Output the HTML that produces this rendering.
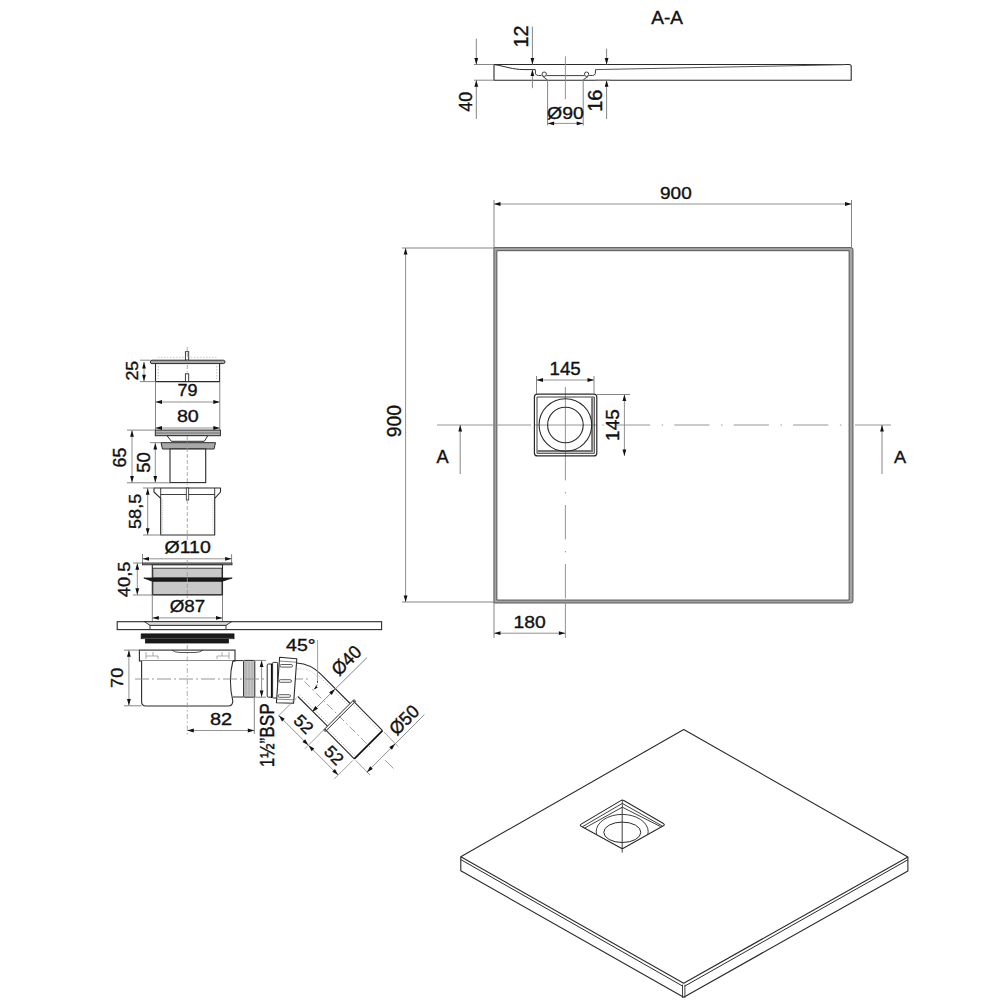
<!DOCTYPE html>
<html><head><meta charset="utf-8"><style>
html,body{margin:0;padding:0;background:#fff;width:1000px;height:1000px;overflow:hidden}
svg{display:block}
text{font-family:"Liberation Sans", sans-serif}
</style></head><body>
<svg width="1000" height="1000" viewBox="0 0 1000 1000">
<rect width="1000" height="1000" fill="#fff"/>
<text transform="translate(667.00,17.40) rotate(0) translate(-15.80,6.20) scale(0.1904,0.1797)" font-size="100" fill="#111" stroke="#111" stroke-width="2.05">A-A</text>
<path d="M494,80.2 L494,64.5 L849,64.5 Q851.2,64.5 851.2,66.5 L851.2,80.2 Z" fill="none" stroke="#2a2a2a" stroke-width="1.1" stroke-linejoin="round"/>
<path d="M494,64.5 C506,66.5 512,69.4 524,69.6 L535.3,69.6" fill="none" stroke="#2a2a2a" stroke-width="1.0" stroke-linejoin="round"/>
<path d="M595.5,69.6 L845,64.7" fill="none" stroke="#555" stroke-width="1.0" stroke-linejoin="round"/>
<path d="M535.3,69.6 L535.5,73.8 Q536,75.5 538.5,75.5 L541.5,75.5" fill="none" stroke="#2a2a2a" stroke-width="0.9" stroke-linejoin="round"/>
<path d="M546.5,75.6 L584.3,75.6" fill="none" stroke="#2a2a2a" stroke-width="0.9" stroke-linejoin="round"/>
<path d="M589.3,75.5 L592.3,75.5 Q594.8,75.5 595.3,73.8 L595.5,69.6" fill="none" stroke="#2a2a2a" stroke-width="0.9" stroke-linejoin="round"/>
<circle cx="544.2" cy="74.2" r="2.2" fill="none" stroke="#2a2a2a" stroke-width="0.9"/>
<circle cx="586.6" cy="74.2" r="2.2" fill="none" stroke="#2a2a2a" stroke-width="0.9"/>
<path d="M542.5,76.2 L547.6,80" fill="none" stroke="#2a2a2a" stroke-width="0.9" stroke-linejoin="round"/>
<path d="M588.3,76.2 L583.2,80" fill="none" stroke="#2a2a2a" stroke-width="0.9" stroke-linejoin="round"/>
<line x1="474.00" y1="64.50" x2="494.00" y2="64.50" stroke="#858585" stroke-width="1.0"/>
<line x1="474.00" y1="80.20" x2="494.00" y2="80.20" stroke="#858585" stroke-width="1.0"/>
<line x1="476.30" y1="38.70" x2="476.30" y2="64.50" stroke="#858585" stroke-width="1.0"/>
<polygon points="476.30,64.50 474.40,58.00 478.20,58.00" fill="#111"/>
<line x1="476.30" y1="80.20" x2="476.30" y2="119.00" stroke="#858585" stroke-width="1.0"/>
<polygon points="476.30,80.20 478.20,86.70 474.40,86.70" fill="#111"/>
<line x1="532.40" y1="26.60" x2="532.40" y2="64.50" stroke="#858585" stroke-width="1.0"/>
<polygon points="532.40,64.50 530.50,58.00 534.30,58.00" fill="#111"/>
<line x1="532.40" y1="69.60" x2="532.40" y2="88.20" stroke="#858585" stroke-width="1.0"/>
<polygon points="532.40,69.60 534.30,76.10 530.50,76.10" fill="#111"/>
<line x1="565.40" y1="56.30" x2="565.40" y2="99.20" stroke="#8a8a8a" stroke-width="0.9"/>
<line x1="547.60" y1="80.00" x2="547.60" y2="125.60" stroke="#858585" stroke-width="1.0"/>
<line x1="583.20" y1="80.00" x2="583.20" y2="125.60" stroke="#858585" stroke-width="1.0"/>
<line x1="547.60" y1="123.40" x2="583.20" y2="123.40" stroke="#858585" stroke-width="0.9"/>
<polygon points="547.60,123.40 554.10,121.50 554.10,125.30" fill="#111"/>
<polygon points="583.20,123.40 576.70,125.30 576.70,121.50" fill="#111"/>
<line x1="606.60" y1="48.60" x2="606.60" y2="64.50" stroke="#858585" stroke-width="1.0"/>
<polygon points="606.60,64.50 604.70,58.00 608.50,58.00" fill="#111"/>
<line x1="606.60" y1="80.20" x2="606.60" y2="119.00" stroke="#858585" stroke-width="1.0"/>
<polygon points="606.60,80.20 608.50,86.70 604.70,86.70" fill="#111"/>
<line x1="595.50" y1="80.20" x2="610.00" y2="80.20" stroke="#858585" stroke-width="1.0"/>
<text transform="translate(521.00,36.30) rotate(-90) translate(-11.28,7.00) scale(0.1980,0.2000)" font-size="100" fill="#111" stroke="#111" stroke-width="1.91">12</text>
<text transform="translate(465.30,101.95) rotate(-90) translate(-9.71,6.41) scale(0.1781,0.1859)" font-size="100" fill="#111" stroke="#111" stroke-width="2.09">40</text>
<text transform="translate(565.40,113.05) rotate(0) translate(-18.38,5.82) scale(0.1945,0.1662)" font-size="100" fill="#111" stroke="#111" stroke-width="2.11">Ø90</text>
<text transform="translate(594.55,100.30) rotate(-90) translate(-11.50,6.95) scale(0.2000,0.2014)" font-size="100" fill="#111" stroke="#111" stroke-width="1.89">16</text>
<path d="M493.9,247.6 H851 Q853,247.6 853,249.6 V601 Q853,603 851,603 H493.9 Z M496.9,250.7 V600 H849.1 V250.7 Z" fill="#a4a4a4" stroke="#3a3a3a" stroke-width="0.8" stroke-linejoin="round"/>
<line x1="437.00" y1="425.00" x2="531.20" y2="425.00" stroke="#8a8a8a" stroke-width="0.9"/>
<line x1="534.40" y1="425.00" x2="596.80" y2="425.00" stroke="#8a8a8a" stroke-width="0.9"/>
<line x1="597" y1="425" x2="849" y2="425" stroke="#8a8a8a" stroke-width="0.9" stroke-dasharray="35.2 11.6 1.4 11.2" stroke-dashoffset="41.5"/>
<line x1="855.00" y1="425.00" x2="891.00" y2="425.00" stroke="#8a8a8a" stroke-width="0.9"/>
<line x1="565.40" y1="387.00" x2="565.40" y2="456.00" stroke="#8a8a8a" stroke-width="0.9"/>
<line x1="565.4" y1="456" x2="565.4" y2="601" stroke="#8a8a8a" stroke-width="0.9" stroke-dasharray="34.4 11.6 1.4 11.6" stroke-dashoffset="10"/>
<line x1="565.40" y1="602.00" x2="565.40" y2="638.00" stroke="#858585" stroke-width="0.9"/>
<rect x="534.40" y="394.20" width="62.40" height="61.70" rx="3" fill="none" stroke="#2a2a2a" stroke-width="1.2"/>
<path d="M537,397 H594.3 V453.3 H537 Z" fill="none" stroke="#2a2a2a" stroke-width="0.9" stroke-linejoin="round"/>
<path d="M592.2,397.5 V451.2 H537.5" fill="none" stroke="#777" stroke-width="2.2" stroke-linejoin="round"/>
<circle cx="565.4" cy="425" r="26.3" fill="none" stroke="#2a2a2a" stroke-width="1.1"/>
<circle cx="565.4" cy="425" r="17.8" fill="none" stroke="#2a2a2a" stroke-width="1.1"/>
<line x1="494.00" y1="200.00" x2="494.00" y2="248.00" stroke="#858585" stroke-width="1.0"/>
<line x1="851.50" y1="200.00" x2="851.50" y2="248.00" stroke="#858585" stroke-width="1.0"/>
<line x1="494.00" y1="204.00" x2="851.50" y2="204.00" stroke="#858585" stroke-width="0.9"/>
<polygon points="494.00,204.00 500.50,202.10 500.50,205.90" fill="#111"/>
<polygon points="851.50,204.00 845.00,205.90 845.00,202.10" fill="#111"/>
<line x1="402.00" y1="248.00" x2="494.00" y2="248.00" stroke="#858585" stroke-width="1.0"/>
<line x1="402.00" y1="602.00" x2="494.00" y2="602.00" stroke="#858585" stroke-width="1.0"/>
<line x1="405.60" y1="248.00" x2="405.60" y2="602.00" stroke="#858585" stroke-width="0.9"/>
<polygon points="405.60,248.00 407.50,254.50 403.70,254.50" fill="#111"/>
<polygon points="405.60,602.00 403.70,595.50 407.50,595.50" fill="#111"/>
<line x1="460.20" y1="425.00" x2="460.20" y2="474.00" stroke="#858585" stroke-width="1.0"/>
<polygon points="460.20,425.00 462.10,431.50 458.30,431.50" fill="#111"/>
<line x1="882.00" y1="425.00" x2="882.00" y2="474.00" stroke="#858585" stroke-width="1.0"/>
<polygon points="882.00,425.00 883.90,431.50 880.10,431.50" fill="#111"/>
<line x1="536.50" y1="376.00" x2="536.50" y2="394.00" stroke="#858585" stroke-width="1.0"/>
<line x1="594.00" y1="376.00" x2="594.00" y2="394.00" stroke="#858585" stroke-width="1.0"/>
<line x1="536.50" y1="380.00" x2="594.00" y2="380.00" stroke="#858585" stroke-width="0.9"/>
<polygon points="536.50,380.00 543.00,378.10 543.00,381.90" fill="#111"/>
<polygon points="594.00,380.00 587.50,381.90 587.50,378.10" fill="#111"/>
<line x1="597.00" y1="394.50" x2="630.00" y2="394.50" stroke="#858585" stroke-width="1.0"/>
<line x1="624.40" y1="394.50" x2="624.40" y2="456.00" stroke="#858585" stroke-width="0.9"/>
<polygon points="624.40,394.50 626.30,401.00 622.50,401.00" fill="#111"/>
<polygon points="624.40,456.00 622.50,449.50 626.30,449.50" fill="#111"/>
<line x1="494.00" y1="602.00" x2="494.00" y2="638.00" stroke="#858585" stroke-width="1.0"/>
<line x1="494.00" y1="633.20" x2="565.40" y2="633.20" stroke="#858585" stroke-width="0.9"/>
<polygon points="494.00,633.20 500.50,631.30 500.50,635.10" fill="#111"/>
<polygon points="565.40,633.20 558.90,635.10 558.90,631.30" fill="#111"/>
<text transform="translate(676.00,193.10) rotate(0) translate(-15.95,5.93) scale(0.1899,0.1718)" font-size="100" fill="#111" stroke="#111" stroke-width="2.10">900</text>
<text transform="translate(394.10,420.90) rotate(-90) translate(-16.27,6.71) scale(0.1937,0.1944)" font-size="100" fill="#111" stroke="#111" stroke-width="1.96">900</text>
<text transform="translate(442.40,456.90) rotate(0) translate(-6.00,6.30) scale(0.1818,0.1826)" font-size="100" fill="#111" stroke="#111" stroke-width="2.09">A</text>
<text transform="translate(900.00,457.00) rotate(0) translate(-6.00,6.00) scale(0.1818,0.1739)" font-size="100" fill="#111" stroke="#111" stroke-width="2.14">A</text>
<text transform="translate(565.50,368.75) rotate(0) translate(-16.00,6.07) scale(0.1871,0.1786)" font-size="100" fill="#111" stroke="#111" stroke-width="2.08">145</text>
<text transform="translate(613.00,424.70) rotate(-90) translate(-16.22,6.41) scale(0.1897,0.1886)" font-size="100" fill="#111" stroke="#111" stroke-width="2.01">145</text>
<text transform="translate(530.00,622.20) rotate(0) translate(-16.55,5.64) scale(0.1935,0.1634)" font-size="100" fill="#111" stroke="#111" stroke-width="2.13">180</text>
<line x1="158.00" y1="357.30" x2="218.00" y2="357.30" stroke="#bbb" stroke-width="0.8" stroke-dasharray="1.5 1.5"/>
<rect x="185.40" y="351.70" width="3.30" height="8.50" rx="0" fill="#fff" stroke="#2a2a2a" stroke-width="0.9"/>
<rect x="150.30" y="360.20" width="74.70" height="3.40" rx="1.7" fill="#a8a8a8" stroke="#2a2a2a" stroke-width="1.0"/>
<path d="M155.5,363.6 V381.6 H219.6 V363.6" fill="none" stroke="#2a2a2a" stroke-width="1.1" stroke-linejoin="round"/>
<line x1="158.30" y1="366.00" x2="158.30" y2="379.00" stroke="#aaa" stroke-width="0.8" stroke-dasharray="1.5 1.5"/>
<line x1="216.80" y1="366.00" x2="216.80" y2="379.00" stroke="#aaa" stroke-width="0.8" stroke-dasharray="1.5 1.5"/>
<rect x="185.40" y="373.80" width="3.30" height="7.80" rx="0" fill="#fff" stroke="#2a2a2a" stroke-width="0.9"/>
<line x1="187.30" y1="347.00" x2="187.30" y2="372.00" stroke="#999" stroke-width="0.8" stroke-dasharray="4 2"/>
<line x1="140.00" y1="360.20" x2="150.00" y2="360.20" stroke="#858585" stroke-width="1.0"/>
<line x1="140.00" y1="381.60" x2="155.50" y2="381.60" stroke="#858585" stroke-width="1.0"/>
<line x1="144.00" y1="362.00" x2="144.00" y2="381.30" stroke="#858585" stroke-width="0.9"/>
<polygon points="144.00,362.00 145.90,368.50 142.10,368.50" fill="#111"/>
<polygon points="144.00,381.30 142.10,374.80 145.90,374.80" fill="#111"/>
<line x1="155.50" y1="381.60" x2="155.50" y2="430.00" stroke="#858585" stroke-width="1.0"/>
<line x1="219.80" y1="381.60" x2="219.80" y2="430.00" stroke="#858585" stroke-width="1.0"/>
<line x1="155.50" y1="402.00" x2="219.80" y2="402.00" stroke="#858585" stroke-width="0.9"/>
<polygon points="155.50,402.00 162.00,400.10 162.00,403.90" fill="#111"/>
<polygon points="219.80,402.00 213.30,403.90 213.30,400.10" fill="#111"/>
<line x1="155.50" y1="428.00" x2="219.80" y2="428.00" stroke="#858585" stroke-width="0.9"/>
<polygon points="155.50,428.00 162.00,426.10 162.00,429.90" fill="#111"/>
<polygon points="219.80,428.00 213.30,429.90 213.30,426.10" fill="#111"/>
<text transform="translate(132.15,370.60) rotate(-90) translate(-9.99,5.69) scale(0.1784,0.1648)" font-size="100" fill="#111" stroke="#111" stroke-width="2.21">25</text>
<text transform="translate(187.40,390.75) rotate(0) translate(-10.00,5.69) scale(0.1802,0.1648)" font-size="100" fill="#111" stroke="#111" stroke-width="2.20">79</text>
<text transform="translate(187.85,416.10) rotate(0) translate(-10.94,5.44) scale(0.1971,0.1577)" font-size="100" fill="#111" stroke="#111" stroke-width="2.14">80</text>
<rect x="155.30" y="430.10" width="65.10" height="5.60" rx="0" fill="#b4b4b4" stroke="#2a2a2a" stroke-width="1.0"/>
<line x1="156.00" y1="433.00" x2="219.70" y2="433.00" stroke="#555" stroke-width="0.7"/>
<polygon points="167.00,435.70 171.40,441.30 204.30,441.30 207.80,435.70" fill="#fff" stroke="#2a2a2a" stroke-width="1.0" stroke-linejoin="round"/>
<polygon points="161.00,442.70 215.50,442.70 214.00,449.00 162.50,449.00" fill="#a8a8a8" stroke="#2a2a2a" stroke-width="1.0" stroke-linejoin="round"/>
<rect x="170.00" y="449.00" width="35.70" height="33.60" rx="0" fill="#fff" stroke="#2a2a2a" stroke-width="1.1"/>
<line x1="187.30" y1="436.00" x2="187.30" y2="485.00" stroke="#999" stroke-width="0.8" stroke-dasharray="4 2"/>
<line x1="127.00" y1="430.10" x2="155.30" y2="430.10" stroke="#858585" stroke-width="1.0"/>
<line x1="127.00" y1="482.80" x2="170.00" y2="482.80" stroke="#858585" stroke-width="1.0"/>
<line x1="132.00" y1="430.30" x2="132.00" y2="482.60" stroke="#858585" stroke-width="0.9"/>
<polygon points="132.00,430.30 133.90,436.80 130.10,436.80" fill="#111"/>
<polygon points="132.00,482.60 130.10,476.10 133.90,476.10" fill="#111"/>
<line x1="150.00" y1="442.70" x2="161.00" y2="442.70" stroke="#858585" stroke-width="1.0"/>
<line x1="155.30" y1="443.00" x2="155.30" y2="482.60" stroke="#858585" stroke-width="0.9"/>
<polygon points="155.30,443.00 157.20,449.50 153.40,449.50" fill="#111"/>
<polygon points="155.30,482.60 153.40,476.10 157.20,476.10" fill="#111"/>
<text transform="translate(119.95,457.40) rotate(-90) translate(-9.99,6.46) scale(0.1784,0.1873)" font-size="100" fill="#111" stroke="#111" stroke-width="2.08">65</text>
<text transform="translate(143.35,462.50) rotate(-90) translate(-10.24,6.17) scale(0.1845,0.1789)" font-size="100" fill="#111" stroke="#111" stroke-width="2.09">50</text>
<path d="M154,488 H220.5 V492 L214.7,498.4 V535 H160.7 V498.4 L154,492 Z" fill="#fff" stroke="#2a2a2a" stroke-width="1.1" stroke-linejoin="round"/>
<line x1="160.70" y1="488.00" x2="160.70" y2="498.40" stroke="#2a2a2a" stroke-width="0.9"/>
<line x1="214.70" y1="488.00" x2="214.70" y2="498.40" stroke="#2a2a2a" stroke-width="0.9"/>
<line x1="160.70" y1="494.50" x2="214.70" y2="494.50" stroke="#2a2a2a" stroke-width="0.9"/>
<line x1="162.50" y1="500.00" x2="162.50" y2="533.00" stroke="#bbb" stroke-width="0.7" stroke-dasharray="1.2 1.2"/>
<line x1="212.90" y1="500.00" x2="212.90" y2="533.00" stroke="#bbb" stroke-width="0.7" stroke-dasharray="1.2 1.2"/>
<rect x="186.30" y="488.00" width="2.40" height="12.00" rx="0" fill="#fff" stroke="#2a2a2a" stroke-width="0.8"/>
<line x1="187.30" y1="500.00" x2="187.30" y2="540.00" stroke="#999" stroke-width="0.8" stroke-dasharray="4 2"/>
<line x1="143.00" y1="488.00" x2="154.00" y2="488.00" stroke="#858585" stroke-width="1.0"/>
<line x1="143.00" y1="535.00" x2="160.70" y2="535.00" stroke="#858585" stroke-width="1.0"/>
<line x1="147.70" y1="488.20" x2="147.70" y2="534.80" stroke="#858585" stroke-width="0.9"/>
<polygon points="147.70,488.20 149.60,494.70 145.80,494.70" fill="#111"/>
<polygon points="147.70,534.80 145.80,528.30 149.60,528.30" fill="#111"/>
<text transform="translate(136.05,511.40) rotate(-90) translate(-17.63,4.91) scale(0.1817,0.1723)" font-size="100" fill="#111" stroke="#111" stroke-width="2.15">58,5</text>
<text transform="translate(187.65,547.85) rotate(0) translate(-23.13,5.53) scale(0.1952,0.1581)" font-size="100" fill="#111" stroke="#111" stroke-width="2.15">Ø110</text>
<line x1="142.50" y1="554.00" x2="142.50" y2="563.00" stroke="#858585" stroke-width="1.0"/>
<line x1="231.60" y1="554.00" x2="231.60" y2="563.00" stroke="#858585" stroke-width="1.0"/>
<line x1="142.50" y1="558.80" x2="231.60" y2="558.80" stroke="#858585" stroke-width="0.9"/>
<polygon points="142.50,558.80 149.00,556.90 149.00,560.70" fill="#111"/>
<polygon points="231.60,558.80 225.10,560.70 225.10,556.90" fill="#111"/>
<rect x="142.50" y="563.00" width="89.50" height="1.80" rx="0" fill="#9a9a9a" stroke="#2a2a2a" stroke-width="0.9"/>
<rect x="152.30" y="564.80" width="70.20" height="30.20" rx="0" fill="#fff" stroke="#2a2a2a" stroke-width="1.1"/>
<rect x="152.80" y="568.20" width="69.20" height="9.80" rx="0" fill="#c8c8c8" stroke="#2a2a2a" stroke-width="0.9"/>
<rect x="152.80" y="580.80" width="69.20" height="13.80" rx="0" fill="#c8c8c8" stroke="#2a2a2a" stroke-width="0.9"/>
<polygon points="143.80,578.00 232.20,578.00 222.50,581.20 152.30,581.20" fill="#1a1a1a" stroke="#111" stroke-width="0.8" stroke-linejoin="round"/>
<line x1="187.30" y1="560.00" x2="187.30" y2="598.00" stroke="#999" stroke-width="0.8" stroke-dasharray="4 2"/>
<line x1="133.00" y1="563.00" x2="142.50" y2="563.00" stroke="#858585" stroke-width="1.0"/>
<line x1="133.00" y1="595.00" x2="152.30" y2="595.00" stroke="#858585" stroke-width="1.0"/>
<line x1="137.30" y1="563.20" x2="137.30" y2="594.80" stroke="#858585" stroke-width="0.9"/>
<polygon points="137.30,563.20 139.20,569.70 135.40,569.70" fill="#111"/>
<polygon points="137.30,594.80 135.40,588.30 139.20,588.30" fill="#111"/>
<line x1="152.30" y1="595.00" x2="152.30" y2="622.00" stroke="#858585" stroke-width="1.0"/>
<line x1="222.50" y1="595.00" x2="222.50" y2="622.00" stroke="#858585" stroke-width="1.0"/>
<line x1="152.30" y1="617.90" x2="222.50" y2="617.90" stroke="#858585" stroke-width="0.9"/>
<polygon points="152.30,617.90 158.80,616.00 158.80,619.80" fill="#111"/>
<polygon points="222.50,617.90 216.00,619.80 216.00,616.00" fill="#111"/>
<text transform="translate(125.50,579.60) rotate(-90) translate(-17.57,4.46) scale(0.1830,0.1566)" font-size="100" fill="#111" stroke="#111" stroke-width="2.24">40,5</text>
<text transform="translate(187.40,606.20) rotate(0) translate(-17.65,5.86) scale(0.1878,0.1676)" font-size="100" fill="#111" stroke="#111" stroke-width="2.14">Ø87</text>
<rect x="117.20" y="621.70" width="264.40" height="7.90" rx="0" fill="#fff" stroke="#2a2a2a" stroke-width="1.1"/>
<polygon points="144.40,621.70 231.60,621.70 226.00,625.40 150.00,625.40" fill="#dcdcdc" stroke="#2a2a2a" stroke-width="0.9" stroke-linejoin="round"/>
<rect x="150.00" y="625.40" width="76.00" height="4.20" rx="0" fill="#fff" stroke="#2a2a2a" stroke-width="0.9"/>
<rect x="141.20" y="633.90" width="92.80" height="4.80" rx="0" fill="#1a1a1a" stroke="#111" stroke-width="0.8"/>
<rect x="145.50" y="638.70" width="82.90" height="4.30" rx="0" fill="#1a1a1a" stroke="#111" stroke-width="0.8"/>
<line x1="142.00" y1="638.40" x2="233.00" y2="638.40" stroke="#777" stroke-width="0.6"/>
<rect x="139.40" y="650.10" width="95.60" height="10.90" rx="0" fill="#fff" stroke="#2a2a2a" stroke-width="1.1"/>
<path d="M172,650.1 Q175,652.5 180,652.5 H195 Q200,652.5 203,650.1" fill="none" stroke="#2a2a2a" stroke-width="0.8" stroke-linejoin="round"/>
<path d="M146,652 V659 M146,656 H158 V659 M153,652 V656" fill="none" stroke="#888" stroke-width="0.7" stroke-linejoin="round"/>
<path d="M229,652 V659 M229,656 H217 V659 M222,652 V656" fill="none" stroke="#888" stroke-width="0.7" stroke-linejoin="round"/>
<path d="M141.6,661 V701.5 Q141.6,706 146,706 H228 Q232.8,706 232.8,701 Q228,680 232.9,661" fill="#fff" stroke="#2a2a2a" stroke-width="1.1" stroke-linejoin="round"/>
<path d="M232.9,660.6 H243.6 M232.8,697 H243.6" fill="none" stroke="#2a2a2a" stroke-width="1.0" stroke-linejoin="round"/>
<rect x="243.60" y="660.40" width="11.20" height="36.80" rx="1" fill="#c4c4c4" stroke="#2a2a2a" stroke-width="1.0"/>
<line x1="246.00" y1="662.00" x2="246.00" y2="695.00" stroke="#9a9a9a" stroke-width="0.6"/>
<line x1="249.00" y1="662.00" x2="249.00" y2="695.00" stroke="#9a9a9a" stroke-width="0.6"/>
<line x1="252.00" y1="662.00" x2="252.00" y2="695.00" stroke="#9a9a9a" stroke-width="0.6"/>
<line x1="187.30" y1="645.00" x2="187.30" y2="736.00" stroke="#999" stroke-width="0.8" stroke-dasharray="5 2.5 1.5 2.5"/>
<line x1="135.00" y1="679.00" x2="310.00" y2="679.00" stroke="#8a8a8a" stroke-width="0.9" stroke-dasharray="14 3 2 3"/>
<line x1="124.00" y1="650.10" x2="139.40" y2="650.10" stroke="#858585" stroke-width="1.0"/>
<line x1="124.00" y1="705.80" x2="141.60" y2="705.80" stroke="#858585" stroke-width="1.0"/>
<line x1="128.90" y1="650.30" x2="128.90" y2="705.60" stroke="#858585" stroke-width="0.9"/>
<polygon points="128.90,650.30 130.80,656.80 127.00,656.80" fill="#111"/>
<polygon points="128.90,705.60 127.00,699.10 130.80,699.10" fill="#111"/>
<line x1="254.30" y1="697.00" x2="254.30" y2="734.00" stroke="#858585" stroke-width="1.0"/>
<line x1="187.30" y1="730.50" x2="254.30" y2="730.50" stroke="#858585" stroke-width="0.9"/>
<polygon points="187.30,730.50 193.80,728.60 193.80,732.40" fill="#111"/>
<polygon points="254.30,730.50 247.80,732.40 247.80,728.60" fill="#111"/>
<line x1="255.00" y1="660.40" x2="266.00" y2="660.40" stroke="#858585" stroke-width="1.0"/>
<line x1="255.00" y1="697.20" x2="266.00" y2="697.20" stroke="#858585" stroke-width="1.0"/>
<line x1="261.60" y1="660.60" x2="261.60" y2="697.00" stroke="#858585" stroke-width="0.9"/>
<polygon points="261.60,660.60 263.50,667.10 259.70,667.10" fill="#111"/>
<polygon points="261.60,697.00 259.70,690.50 263.50,690.50" fill="#111"/>
<text transform="translate(117.60,677.80) rotate(-90) translate(-10.10,5.83) scale(0.1804,0.1690)" font-size="100" fill="#111" stroke="#111" stroke-width="2.18">70</text>
<text transform="translate(221.00,718.65) rotate(0) translate(-11.00,5.88) scale(0.2000,0.1704)" font-size="100" fill="#111" stroke="#111" stroke-width="2.05">82</text>
<text transform="translate(267.15,735.10) rotate(-90) translate(-32.17,6.66) scale(0.1716,0.1930)" font-size="100" fill="#111" stroke="#111" stroke-width="2.08">1½”BSP</text>
<line x1="318.75" y1="675.65" x2="348.35" y2="705.25" stroke="#aaa" stroke-width="0.7" stroke-dasharray="1.5 1.5"/>
<line x1="299.65" y1="694.75" x2="329.25" y2="724.35" stroke="#aaa" stroke-width="0.7" stroke-dasharray="1.5 1.5"/>
<line x1="351.17" y1="702.43" x2="380.77" y2="732.43" stroke="#aaa" stroke-width="0.7" stroke-dasharray="1.5 1.5"/>
<line x1="326.43" y1="727.17" x2="356.03" y2="757.17" stroke="#aaa" stroke-width="0.7" stroke-dasharray="1.5 1.5"/>
<path d="M297,669 Q312,668 316.5,677" fill="none" stroke="#bbb" stroke-width="0.7" stroke-linejoin="round" stroke-dasharray="1.5 1.5"/>
<path d="M296.8,663 A37,37 0 0 1 320.51,673.89 L350.11,703.49" fill="none" stroke="#2a2a2a" stroke-width="1.1" stroke-linejoin="round"/>
<line x1="297.89" y1="696.51" x2="327.49" y2="726.11" stroke="#2a2a2a" stroke-width="1.1"/>
<path d="M352.94,700.66 L382.54,730.66 M354.26,758.94 L324.66,728.94" fill="none" stroke="#2a2a2a" stroke-width="1.1" stroke-linejoin="round"/>
<line x1="382.54" y1="730.66" x2="354.26" y2="758.94" stroke="#111" stroke-width="1.7"/>
<line x1="354.00" y1="699.60" x2="323.60" y2="730.00" stroke="#2a2a2a" stroke-width="1.0"/>
<line x1="355.60" y1="701.20" x2="325.20" y2="731.60" stroke="#2a2a2a" stroke-width="1.0"/>
<line x1="354.00" y1="699.60" x2="355.60" y2="701.20" stroke="#2a2a2a" stroke-width="1.0"/>
<line x1="323.60" y1="730.00" x2="325.20" y2="731.60" stroke="#2a2a2a" stroke-width="1.0"/>
<line x1="304.40" y1="681.40" x2="372.00" y2="749.00" stroke="#888" stroke-width="0.8" stroke-dasharray="8 3 2 3"/>
<line x1="385.00" y1="760.00" x2="393.50" y2="768.50" stroke="#888" stroke-width="0.8"/>
<rect x="267.20" y="664.00" width="4.40" height="33.20" rx="1.2" fill="#fff" stroke="#2a2a2a" stroke-width="1.0"/>
<line x1="271.80" y1="663.50" x2="271.80" y2="698.00" stroke="#111" stroke-width="1.8"/>
<rect x="272.60" y="662.40" width="5.00" height="35.60" rx="0.8" fill="#fff" stroke="#2a2a2a" stroke-width="1.0"/>
<polygon points="279.60,657.20 296.80,658.80 293.60,703.20 276.40,702.80" fill="#fff" stroke="#2a2a2a" stroke-width="1.1" stroke-linejoin="round"/>
<line x1="279.30" y1="661.00" x2="296.50" y2="662.20" stroke="#555" stroke-width="0.7"/>
<line x1="276.80" y1="699.20" x2="293.90" y2="699.80" stroke="#555" stroke-width="0.7"/>
<rect x="280.00" y="664.50" width="12.50" height="2.60" rx="1.3" fill="#fff" stroke="#333" stroke-width="0.8"/>
<rect x="279.00" y="679.70" width="12.50" height="2.60" rx="1.3" fill="#fff" stroke="#333" stroke-width="0.8"/>
<rect x="278.00" y="694.70" width="12.50" height="2.60" rx="1.3" fill="#fff" stroke="#333" stroke-width="0.8"/>
<line x1="317.60" y1="640.00" x2="317.60" y2="681.00" stroke="#858585" stroke-width="0.8"/>
<path d="M317.6,681 Q317.5,686 314,689.5" fill="none" stroke="#333" stroke-width="0.9" stroke-linejoin="round" stroke-dasharray="2 1.5"/>
<polygon points="314.00,689.50 315.91,685.75 317.75,687.59" fill="#111"/>
<text transform="translate(300.40,645.20) rotate(0) translate(-14.39,5.83) scale(0.1958,0.1690)" font-size="100" fill="#111" stroke="#111" stroke-width="2.08">45°</text>
<line x1="312.00" y1="712.00" x2="367.00" y2="657.60" stroke="#858585" stroke-width="1.0"/>
<polygon points="335.00,689.00 331.75,694.94 329.06,692.25" fill="#111"/>
<polygon points="312.00,712.00 315.25,706.06 317.94,708.75" fill="#111"/>
<line x1="296.47" y1="697.93" x2="278.09" y2="716.31" stroke="#858585" stroke-width="0.8"/>
<line x1="323.24" y1="730.36" x2="304.86" y2="748.74" stroke="#858585" stroke-width="0.8"/>
<line x1="352.84" y1="760.36" x2="334.46" y2="778.74" stroke="#858585" stroke-width="0.8"/>
<line x1="278.80" y1="715.60" x2="338.20" y2="775.00" stroke="#858585" stroke-width="0.9"/>
<polygon points="278.80,715.60 284.74,718.85 282.05,721.54" fill="#111"/>
<polygon points="308.40,745.20 302.46,741.95 305.15,739.26" fill="#111"/>
<polygon points="308.40,745.20 314.34,748.45 311.65,751.14" fill="#111"/>
<polygon points="338.20,775.00 332.26,771.75 334.95,769.06" fill="#111"/>
<line x1="383.96" y1="732.07" x2="398.00" y2="746.50" stroke="#858585" stroke-width="0.8"/>
<line x1="355.67" y1="760.36" x2="370.00" y2="775.00" stroke="#858585" stroke-width="0.8"/>
<line x1="366.90" y1="772.20" x2="424.40" y2="714.60" stroke="#858585" stroke-width="0.9"/>
<polygon points="395.20,743.80 391.95,749.74 389.26,747.05" fill="#111"/>
<polygon points="366.90,772.20 370.15,766.26 372.84,768.95" fill="#111"/>
<text transform="translate(346.30,660.40) rotate(-45) translate(-16.71,6.43) scale(0.1768,0.1838)" font-size="100" fill="#111" stroke="#111" stroke-width="2.11">Ø40</text>
<text transform="translate(404.00,719.80) rotate(-45) translate(-16.71,6.43) scale(0.1768,0.1838)" font-size="100" fill="#111" stroke="#111" stroke-width="2.11">Ø50</text>
<text transform="translate(303.60,724.00) rotate(45) translate(-9.60,5.93) scale(0.1745,0.1718)" font-size="100" fill="#111" stroke="#111" stroke-width="2.19">52</text>
<text transform="translate(334.00,755.20) rotate(45) translate(-9.60,5.93) scale(0.1745,0.1718)" font-size="100" fill="#111" stroke="#111" stroke-width="2.19">52</text>
<polygon points="683.75,729.50 460.80,856.80 683.70,983.20 907.90,857.00" fill="#fff" stroke="#2a2a2a" stroke-width="1.1" stroke-linejoin="round"/>
<path d="M460.8,859.5999999999999 L682.5,986.0 M684.9000000000001,986.0 L907.9,859.8" fill="none" stroke="#2a2a2a" stroke-width="1.0" stroke-linejoin="round"/>
<path d="M460.8,856.8 V870.8 L683.7,997.2 L907.9,871 V857" fill="none" stroke="#2a2a2a" stroke-width="1.1" stroke-linejoin="round"/>
<line x1="682.50" y1="984.70" x2="682.50" y2="997.70" stroke="#2a2a2a" stroke-width="0.9"/>
<line x1="684.90" y1="984.70" x2="684.90" y2="997.70" stroke="#2a2a2a" stroke-width="0.9"/>
<clipPath id="dclip"><polygon points="622.3,799 579,825.2 622.3,848.4 665.5,824.7"/></clipPath>
<ellipse cx="622.2" cy="831.8" rx="26" ry="17.4" fill="none" stroke="#2a2a2a" stroke-width="0.9" clip-path="url(#dclip)"/>
<path d="M620.8,800.6 Q622.3,799.6 623.8,800.6 L663.4,823.6 Q665.2,824.7 663.4,825.8 L623.8,848 Q622.3,848.9 620.8,848 L581.2,826.3 Q579.4,825.2 581.2,824.1 Z" fill="none" stroke="#2a2a2a" stroke-width="1.1" stroke-linejoin="round"/>
<path d="M622.3,803.4 L582.6,826.6 M622.3,803.4 L662.2,826" fill="none" stroke="#2a2a2a" stroke-width="0.9" stroke-linejoin="round"/>
<path d="M622.3,807.2 L584.3,828.3 M622.3,807.2 L660.6,826.6" fill="none" stroke="#2a2a2a" stroke-width="0.9" stroke-linejoin="round"/>
<line x1="622.30" y1="800.50" x2="622.30" y2="807.20" stroke="#2a2a2a" stroke-width="0.8"/>
<ellipse cx="622.3" cy="832.3" rx="18.5" ry="10.2" fill="none" stroke="#2a2a2a" stroke-width="1.0"/>
<line x1="622.20" y1="807.00" x2="622.20" y2="852.60" stroke="#2a2a2a" stroke-width="0.9"/>
</svg>
</body></html>
